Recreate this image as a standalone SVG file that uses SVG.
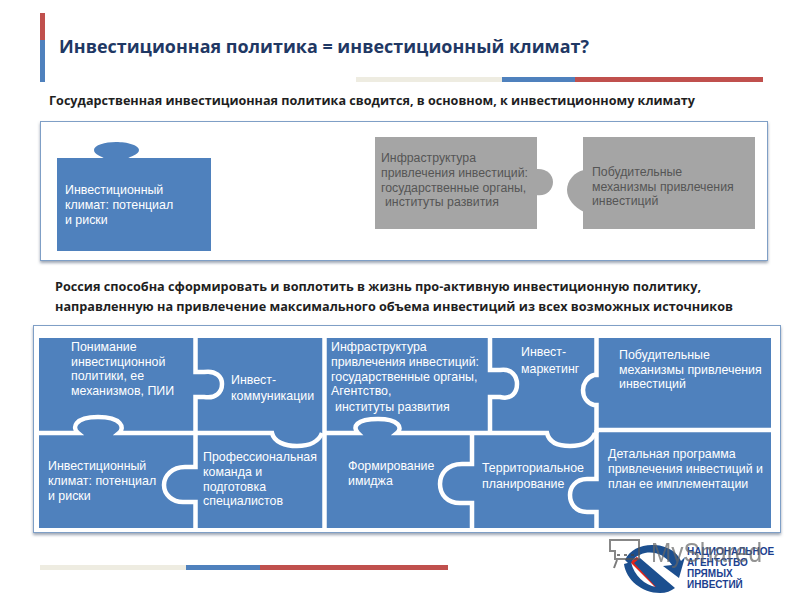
<svg xmlns="http://www.w3.org/2000/svg" width="800" height="600" viewBox="0 0 800 600">
<style>
.panel{fill:#fff;stroke:#7f9fc6;stroke-width:1;filter:url(#sh)}
.blue{fill:#4f81bd}
.grey{fill:#a5a5a5}
.gap{fill:none;stroke:#fff;stroke-width:4.5}
.t{font-family:"Liberation Sans",Arial,sans-serif;font-size:12.4px;fill:#fff}
.g{font-family:"Liberation Sans",Arial,sans-serif;font-size:12.3px;fill:#555}
.h{font-family:"Open Sans","Noto Sans",sans-serif;font-weight:700;fill:#1f1f1f;font-size:12px}
.lg{font-family:"Liberation Sans",Arial,sans-serif;font-weight:700;font-size:10px;fill:#1c3f8f}
</style>
<defs>
<filter id="sh" x="-3%" y="-5%" width="106%" height="112%"><feDropShadow dx="0" dy="2" stdDeviation="1.6" flood-color="#5a6a80" flood-opacity="0.6"/></filter>
</defs>
<rect width="800" height="600" fill="#fff"/>
<g id="header">
<rect x="40" y="13" width="5" height="27" fill="#c0504d"/>
<rect x="40" y="40" width="5" height="42" fill="#4f81bd"/>
<text x="59" y="53" textLength="530" lengthAdjust="spacingAndGlyphs" style="font-family:'Open Sans','Noto Sans',sans-serif;font-weight:700;font-size:18.5px;fill:#1f3864">Инвестиционная политика = инвестиционный климат?</text>
<rect x="356" y="77" width="146" height="5" fill="#eeece1"/>
<rect x="502" y="77" width="73" height="5" fill="#4f81bd"/>
<rect x="575" y="77" width="188" height="5" fill="#c0504d"/>
<text class="h" x="49" y="105" textLength="646" lengthAdjust="spacingAndGlyphs">Государственная инвестиционная политика сводится, в основном, к инвестиционному климату</text>
</g>
<rect class="panel" x="40.5" y="121.5" width="727" height="139"/>
<g id="top-climate">
<rect class="blue" x="57" y="158" width="154" height="93"/>
<path class="blue" d="M94 150C94 145 105 142 116 142C127 142 139 145 139 150C139 155 130 156 127 159H105C102 156 94 155 94 150Z"/>
<text class="t" x="65" y="194">Инвестиционный</text>
<text class="t" x="65" y="209">климат: потенциал</text>
<text class="t" x="65" y="224">и риски</text>
</g>
<g id="top-infrastructure">
<rect class="grey" x="375" y="137" width="162" height="92"/>
<path class="grey" d="M536 169C546 168 553 174 553 182C553 190 546 197 536 195Z"/>
<text class="g" x="381" y="162">Инфраструктура</text>
<text class="g" x="381" y="177">привлечения инвестиций:</text>
<text class="g" x="381" y="192">государственные органы,</text>
<text class="g" x="385" y="206">институты развития</text>
</g>
<g id="top-incentives">
<rect class="grey" x="583" y="137" width="172" height="92"/>
<path class="grey" d="M584 170C574 172 567 181 567 190C567 199 574 207 584 212Z"/>
<text class="g" x="592" y="176">Побудительные</text>
<text class="g" x="592" y="191">механизмы привлечения</text>
<text class="g" x="592" y="205">инвестиций</text>
</g>
<text class="h" x="55" y="291" textLength="646" lengthAdjust="spacingAndGlyphs">Россия способна сформировать и воплотить в жизнь про-активную инвестиционную политику,</text>
<text class="h" x="55" y="311" textLength="678" lengthAdjust="spacingAndGlyphs">направленную на привлечение максимального объема инвестиций из всех возможных источников</text>
<rect class="panel" x="33.5" y="325.5" width="747" height="207"/>
<g id="puzzle-base">
<rect class="blue" x="39" y="338" width="732" height="190"/>
</g>
<g id="connectors">
<path class="gap" d="M195.5 336V372H204C216 370 222 377 222 384C222 392 216 399 204 397H195.5V433"/>
<path class="gap" d="M37 433H78C72 428 74 417 98 417C122 417 125 428 119 433H272C274 442 285 446 297 446C310 446 319 441 322 433"/>
<path class="gap" d="M195.5 433V467H185C172 467 164 476 164 485C164 494 172 503 185 502H195.5V530"/>
<path class="gap" d="M324.5 336V530"/>
<path class="gap" d="M324.5 433H358C352 427 356 419 378 419C399 419 403 428 397 433H547C549 442 558 446 570 446C583 446 592 441 595 433"/>
<path class="gap" d="M490 336V370H500C512 368 517 377 517 384C517 392 512 400 500 397H490V433"/>
<path class="gap" d="M472 433V464H462C447 464 440 474 440 484C440 494 447 504 462 503H472V530"/>
<path class="gap" d="M596.5 336V375H594C587 377 583 384 583 390C583 397 587 403 594 405H596.5V433"/>
<path class="gap" d="M596.5 430H773"/>
<path class="gap" d="M596.5 430V479H587C575 479 570 488 570 495C570 503 575 512 587 512H596.5V530"/>
</g>
<g id="n1"><text class="t" x="71" y="351">Понимание</text><text class="t" x="71" y="366">инвестиционной</text><text class="t" x="71" y="380">политики, ее</text><text class="t" x="71" y="395">механизмов, ПИИ</text></g>
<g id="n2"><text class="t" x="231" y="384">Инвест-</text><text class="t" x="231" y="400">коммуникации</text></g>
<g id="n3"><text class="t" x="331" y="351">Инфраструктура</text><text class="t" x="331" y="366">привлечения инвестиций:</text><text class="t" x="331" y="381">государственные органы,</text><text class="t" x="331" y="395">Агентство,</text><text class="t" x="335" y="411">институты развития</text></g>
<g id="n4"><text class="t" x="521" y="356">Инвест-</text><text class="t" x="521" y="373">маркетинг</text></g>
<g id="n5"><text class="t" x="619" y="359">Побудительные</text><text class="t" x="619" y="374">механизмы привлечения</text><text class="t" x="619" y="388">инвестиций</text></g>
<g id="n6"><text class="t" x="48" y="470">Инвестиционный</text><text class="t" x="48" y="485">климат: потенциал</text><text class="t" x="48" y="500">и риски</text></g>
<g id="n7"><text class="t" x="203" y="461">Профессиональная</text><text class="t" x="203" y="476">команда и</text><text class="t" x="203" y="491">подготовка</text><text class="t" x="203" y="505">специалистов</text></g>
<g id="n8"><text class="t" x="348" y="470">Формирование</text><text class="t" x="348" y="485">имиджа</text></g>
<g id="n9"><text class="t" x="482" y="472">Территориальное</text><text class="t" x="482" y="488">планирование</text></g>
<g id="n10"><text class="t" x="608" y="458">Детальная программа</text><text class="t" x="608" y="473">привлечения инвестиций и</text><text class="t" x="608" y="488">план ее имплементации</text></g>
<g id="footer">
<rect x="40" y="565" width="146" height="5" fill="#eeece1"/>
<rect x="186" y="565" width="74" height="5" fill="#4f81bd"/>
<rect x="260" y="565" width="188" height="5" fill="#c0504d"/>
</g>
<g id="logo">
<path d="M630 562L642 553L668 585L656 588Z" fill="#e2231a"/>
<path d="M636 556L645 550L672 580L666 585Z" fill="#fff"/>
<path d="M625 560C630 549 642 544 655 545C668 546 677 552 681 561L685 557L679 578L663 566L672 565C665 555 655 551 645 553C637 555 632 559 630 565Z" fill="#1c4f8f"/>
<path d="M624 564C626 580 642 593 660 593C666 593 671 591 675 588L640 558L634 563L656 587C645 585 634 576 631 562Z" fill="#1c4f8f"/>
<text class="lg" x="687" y="555">НАЦИОНАЛЬНОЕ</text>
<text class="lg" x="687" y="566">АГЕНТСТВО</text>
<text class="lg" x="687" y="577">ПРЯМЫХ</text>
<text class="lg" x="687" y="588">ИНВЕСТИЙ</text>
</g>
<g id="watermark" opacity="0.7">
<path d="M610 540H639V559H615V551H610Z" fill="none" stroke="#555" stroke-width="2"/>
<path d="M617 555h3M624 555h3M631 555h3M614 568l3-8" fill="none" stroke="#444" stroke-width="2"/>
<text x="651" y="562" style="font-family:'Liberation Sans',Arial,sans-serif;font-size:27px;fill:#666" textLength="111" lengthAdjust="spacingAndGlyphs">MyShared</text>
</g>
</svg>
